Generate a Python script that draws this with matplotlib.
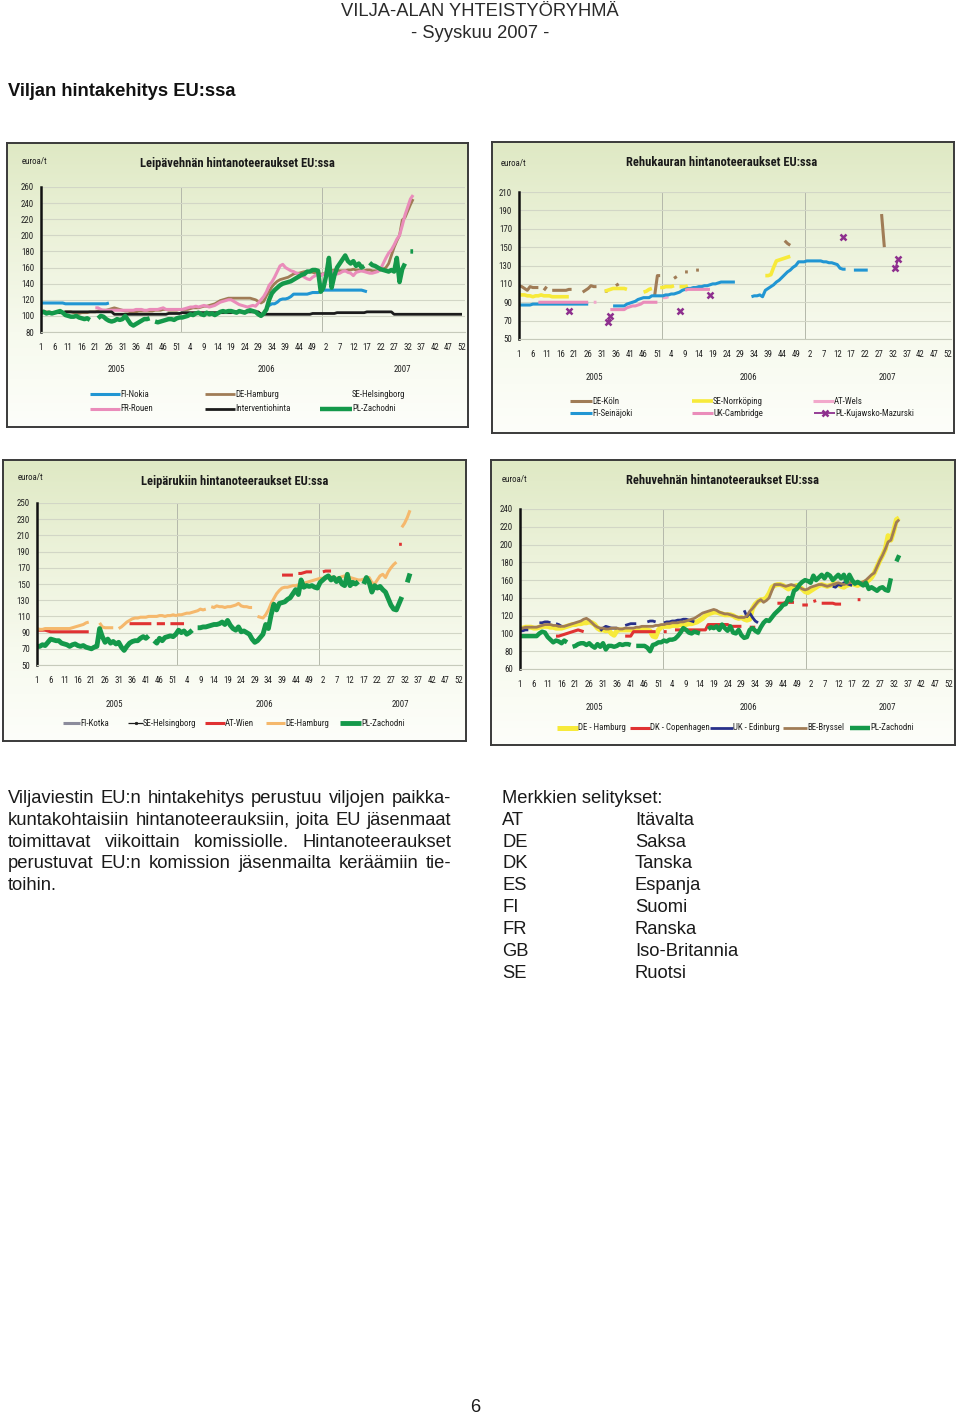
import numpy as np
import matplotlib
matplotlib.use('Agg')
import matplotlib.pyplot as plt
from matplotlib.lines import Line2D
from matplotlib.colors import LinearSegmentedColormap
from matplotlib import font_manager as fm

# ------------------------------------------------------------------ data
x_tick_labels = ['1', '6', '11', '16', '21', '26', '31', '36', '41', '46', '51',
                 '4', '9', '14', '19', '24', '29', '34', '39', '44', '49',
                 '2', '7', '12', '17', '22', '27', '32', '37', '42', '47', '52']
year_labels = ['2005', '2006', '2007']
unit_label = 'euroa/t'

# Panel 1 : Leipävehnä  (segments: (week index, values))
p1_title = 'Leipävehnän hintanoteeraukset EU:ssa'
p1_fi_nokia = [
    (0, [116, 116, 116, 116, 116, 116, 116, 116, 116, 115, 115, 115, 115, 115, 115, 115, 115, 115, 115, 115,
         115, 115, 115, 115, 115, 116]),
    (83, [110, 113, 115, 115, 117, 120, 121, 121, 122, 124, 127, 127, 127, 127, 127, 127, 128, 129, 129, 129,
          130, 132, 132, 132, 132, 132, 132, 132, 132, 132, 132, 132, 132, 132, 132, 132, 131, 130]),
]
p1_de_hamburg = [
    (0, [106, 106, 105, 105, 104, 104, 105, 104, 104, 105, 105, 105, 104, 104, 103, 104, 104, 104, 105, 105,
         105, 106, 106, 107, 107, 108, 109, 110, 109, 108,
         107, 106, 106, 105, 105, 105, 106, 106, 106, 106, 106, 106, 107, 107, 107, 108, 108, 107, 107, 107, 107, 108,
         108, 108, 108, 109, 110, 110, 110, 111, 112, 112, 113, 114, 115,
         117, 119, 120, 121, 122, 122, 122, 122, 122, 122, 122, 122, 122, 121, 120, 118,
         116, 118, 125, 130, 136, 140, 143, 145, 146, 147,
         148, 150, 152, 153, 153, 154, 155, 155, 155, 154, 153, 152, 152,
         152, 154, 155, 156, 157, 157, 156, 156, 156, 157, 157, 158, 157, 157, 156, 156, 157, 157, 156, 156, 156,
         157, 158, 160, 165, 175, 185, 193, 200, 219, 222, 230, 238, 245]),
]
p1_se_helsingborg = []
p1_fr_rouen = [
    (20, [110, 110, 108, 107, 107, 107, 107, 107, 107, 107,
          107, 107, 107, 107, 107, 108, 108, 108, 107, 107, 108, 108, 108, 108, 109, 110, 108, 108, 108, 108, 108, 108,
          108, 109, 110, 111, 111, 112, 111, 112, 113, 112, 111, 112, 113,
          115, 117, 118, 119, 120, 120, 118, 116, 114, 113, 112, 111, 112, 113]),
    (79, [112, 116, 120, 124, 130, 138, 142, 148, 155, 162, 164, 160, 158, 156, 155, 153, 152, 150, 148, 146,
          145, 148, 150, 152, 150, 152,
          153, 155, 155, 154, 152, 153, 155, 156, 154, 153, 150, 154, 155, 156, 155, 154, 153, 153, 154, 155,
          158, 165, 172, 178, 182, 188, 195, 200, 212, 225, 235, 245, 250]),
]
p1_interventiohinta = [
    (0, [104, 104, 104, 104, 104, 104, 104, 104, 104,
         105, 105, 105, 105, 105, 105, 105, 105, 105, 105, 105, 105, 105, 105, 105, 105, 105, 105,
         102, 102, 102, 102, 102, 102, 102, 102, 102, 102, 102, 102, 102, 102, 102, 102, 102, 102, 102, 102,
         103, 103, 103, 103, 103,
         104, 104, 104, 104, 104, 104, 104, 104, 104, 104, 104, 104, 104, 104, 104, 104, 104, 104, 104,
         105, 105, 105, 105, 105, 105, 105, 105, 105, 105,
         102, 102, 102, 102, 102, 102, 102, 102, 102, 102, 102, 102, 102, 102, 102, 102, 102, 102, 102,
         103, 103, 103, 103, 103, 103, 103, 103, 103,
         104, 104, 104, 104, 104, 104, 104, 104, 104, 104, 104,
         105, 105, 105, 105, 105, 105, 105, 105, 105, 105,
         102, 102, 102, 102, 102, 102, 102, 102, 102, 102, 102, 102, 102, 102, 102, 102, 102, 102, 102, 102,
         102, 102, 102, 102, 102, 102]),
]
p1_pl_zachodni = [
    (0, [104, 105, 103, 104, 103, 104, 105, 106, 104, 101, 100, 99, 99, 100, 98, 97, 96, 97, 95]),
    (21, [97, 100, 99, 96, 94, 93, 94, 96, 95, 96, 100, 95, 90, 88, 90, 92, 94, 96, 96, 97]),
    (42, [93, 92, 93, 94, 95, 96, 96, 95, 97, 98,
          98, 99, 100, 102, 101, 103, 104, 102, 101, 104, 102, 103, 101,
          103, 105, 106, 105, 106, 106, 105, 104, 106, 105, 104, 106, 107, 106, 105, 102, 100,
          103, 108, 120, 128, 132, 135, 138, 140, 141,
          142, 143, 145, 147, 149, 151, 152, 155, 155, 157, 157, 156, 130,
          135, 150, 172, 135, 150, 160, 165, 170, 175, 168, 165, 168, 162, 165, 160, 162]),
    (121, [166, 163, 162, 160, 158, 157, 156, 155, 157, 155, 172, 142, 158, 165]),
    (136, [180, 180]),
]

# Panel 2 : Rehukaura
p2_title = 'Rehukauran hintanoteeraukset EU:ssa'
p2_de_koln = [(0, [108, 107, 105, 103]), (4, [107, 106, 106, 106]), (9, [103, 107]),
              (12, [103, 103, 103, 103, 103, 103, 104, 104]), (23, [101, 103, 105, 108, 107, 107]),
              (31, [102, 102]), (35, [108, 110]), (49, [97, 119, 119]), (56, [116, 118]),
              (60, [123, 123]), (64, [125, 125]), (96, [157, 154, 152]), (131, [186, 150])]
p2_se_norrkoping = [(0, [98, 98, 98, 97, 97, 96, 97, 97, 98, 97, 97, 97, 96, 96, 96, 96, 96, 96, 96]),
                    (31, [102, 103, 104, 105, 105, 105, 105, 105, 104]),
                    (45, [101, 102, 104, 105]), (51, [106, 106, 107, 107, 107, 108]),
                    (58, [107, 107, 107, 108]),
                    (89, [119, 119, 120, 128, 135, 136, 137, 138, 139, 140])]
p2_at_wels = [(27, [90, 90]), (52, [95, 95, 96])]
p2_fi_seinajoki = [
    (0, [87, 87, 87, 87, 87, 88, 88, 88, 88, 88, 88, 88, 88, 88, 88, 88, 88, 88, 88, 88, 88, 88, 88, 88, 88, 88]),
    (34, [86, 86, 86, 86, 86, 88, 89, 90, 91, 93, 94, 95, 95, 95,
          97, 97, 97, 97, 97, 98, 98, 99, 99, 100, 101, 103, 104, 105, 105, 106, 106, 107, 107, 108, 108,
          109, 110, 110, 111, 112, 112, 112, 112, 112, 112]),
    (84, [96, 97, 97, 98, 96, 103, 105, 107, 109, 112, 114, 117, 120, 123, 125, 128, 130, 134, 134, 134,
          135, 135, 135, 135, 135, 135, 134, 134, 133, 133, 132, 131, 127, 126, 126]),
    (121, [125, 125, 125, 125, 125, 125]),
]
p2_uk_cambridge = [(7, [90, 90, 90, 90, 90, 90, 90, 90, 90, 90, 90, 90, 90, 90, 90, 90, 90, 90, 90]),
                   (33, [82, 82, 82, 82, 82, 82, 84, 85, 86, 86, 87, 88, 90, 90, 90, 90, 90, 90]),
                   (60, [103, 104, 104, 104, 104, 104, 104, 104, 104, 104])]
p2_pl_kujawsko = [(18, [80]), (32, [68, 75]), (58, [81]), (69, [98]), (117, [161]), (136, [127, 137])]

# Panel 3 : Leipäruis
p3_title = 'Leipärukiin hintanoteeraukset EU:ssa'
p3_fi_kotka = []
p3_se_helsingborg = []
p3_at_wien = [(0, [93, 93, 93, 93, 92, 91, 91, 91, 91, 91, 91, 91, 91, 91, 91, 91, 91, 91, 91, 91]),
              (34, [101, 101, 101, 101, 101, 101, 101, 101, 101]), (44, [101, 101, 101, 101]),
              (49, [101, 101, 101, 101, 101, 101]), (90, [161, 161, 161, 161, 161]),
              (96, [163, 163, 164, 165, 165, 165]), (105, [165, 166, 166, 166]), (133, [199, 199])]
p3_de_hamburg = [
    (0, [95, 94, 94, 95, 95, 95, 95, 95, 95, 95, 95, 95, 95, 96, 97, 98, 99, 100, 102, 103]),
    (23, [102, 97, 96, 96, 96, 96]),
    (30, [95, 97, 100, 103, 105, 107, 108, 108, 109, 109, 109, 110, 110, 110, 110, 111, 111, 110, 111, 111, 112]),
    (51, [111, 112, 112, 113, 114, 114, 115, 116, 117, 119, 118, 119]),
    (64, [122, 121, 123, 122, 122, 121, 122, 122, 123, 124, 126, 123, 122, 122, 121, 121]),
    (81, [110, 109, 108, 112, 118, 126, 132, 138, 142, 145, 146, 146, 147, 148, 148, 149, 150, 151, 152, 153,
          154, 155, 156, 157, 157, 158, 158, 159, 158, 157, 158, 159, 160, 159, 158, 157, 156, 155, 155, 156,
          157, 158, 152, 150, 155, 160, 162, 158, 165, 170, 174, 177]),
    (134, [220, 225, 232, 241]),
]
p3_pl_zachodni = [
    (0, [73, 73, 75, 74, 78, 82, 81, 80, 80, 77, 76, 75, 73, 75, 76, 74, 73, 74, 72, 71, 70, 72,
         73, 95, 85, 78, 82, 77, 79, 76, 78, 72, 68, 73, 77, 79, 80, 80, 83, 85, 83, 86]),
    (43, [80, 77, 83, 80, 84, 85, 86, 85, 88, 93, 90, 92, 88, 90, 93]),
    (59, [96, 96, 97, 97, 98, 99, 100, 100, 101, 103, 100, 105, 99, 95, 93, 97, 91, 92, 90, 88,
          82, 78, 80, 84, 88, 100, 95, 112, 125, 118, 126, 127, 128, 131, 133, 138, 143, 137, 155, 146,
          148, 147, 148, 146, 145, 152, 155, 158, 160, 155, 158, 153, 157, 150, 148, 162, 148, 152, 150, 153]),
    (120, [150, 158, 152, 140, 148, 145, 147, 143, 140, 132, 124, 119, 118, 126, 134]),
    (136, [152, 163]),
]

# Panel 4 : Rehuvehnä
p4_title = 'Rehuvehnän hintanoteeraukset EU:ssa'
p4_de_hamburg = [
    (0, [106, 106, 107, 107, 107, 106, 106, 107, 108, 108, 108, 107, 107, 106, 106, 106, 107, 108, 109, 110,
         110, 111, 111, 112, 112, 113, 112, 110, 106,
         104, 104, 103, 104, 100, 98, 103, 104, 104, 104, 104, 104, 104, 104, 104, 105, 105, 104, 103, 97, 96, 104,
         107, 108, 108, 108, 109, 109, 109, 110, 110, 110, 111, 111, 112, 113, 115, 117,
         120, 122, 123, 124, 124, 123, 122, 121, 121, 121, 120, 118, 117, 118,
         116, 115, 116, 128, 133, 136, 138, 138, 140, 145, 152, 154, 155, 155, 154, 152, 150, 152, 153, 154,
         152, 150, 147, 146,
         148, 150, 152, 154, 155, 154, 153, 154, 155, 156, 155, 153, 152, 154, 155, 156, 155, 154, 156, 157,
         158, 160, 163, 168, 175, 182, 188, 195, 210, 205, 215, 228, 230]),
]
p4_dk_copenhagen = [(13, [97, 97, 98, 99, 100, 101, 102, 103, 104, 103, 102]), (38, [97, 97, 97]),
                    (41, [102, 102, 102, 102, 102, 102, 102, 102, 102]), (52, [102, 102]),
                    (56, [104, 104, 104, 104, 104, 104, 104, 104, 104, 104, 104, 104]),
                    (68, [110, 110, 110, 110, 110, 110, 110, 110]), (76, [108, 108, 108, 108, 108]),
                    (83, [107, 107, 107]), (93, [134, 134, 134, 135, 135, 135, 135]),
                    (102, [132, 132, 132]), (106, [136, 137]),
                    (109, [134, 134, 134, 134, 134, 133, 133, 133]), (122, [138, 138])]
p4_uk_edinburg = [(0, [103, 103, 104, 104]), (7, [112, 112, 113, 113, 112]), (13, [111, 110, 108]),
                  (29, [103, 106, 108, 107, 106, 106, 106]), (38, [109, 110, 111, 111, 111]),
                  (46, [113, 114, 114, 113]),
                  (52, [112, 113, 113, 114, 114, 115, 115, 116, 116, 115, 114, 113]),
                  (81, [126, 119, 123, 118, 114, 112]),
                  (113, [153, 152, 155, 154, 157, 156, 155, 154])]
p4_be_bryssel = [
    (0, [106, 106, 107, 107, 107, 107, 107, 108, 109, 110, 110, 110, 109, 109, 108, 108, 108, 109, 110, 111, 112,
         113, 114, 116, 117, 115, 112, 109, 107,
         106, 106, 105, 105, 106, 106, 106, 105, 105, 106, 106, 106, 106, 107, 107, 108, 108, 108, 108, 108,
         109, 109, 110, 110, 111,
         111, 112, 112, 112, 113, 113, 114, 115, 116, 117, 119, 121, 123, 124, 125, 126, 127, 126, 124, 123,
         122, 122, 121, 120, 119, 118, 118,
         118, 120, 125, 128, 132, 136, 138, 135, 137, 140, 148, 155, 155, 155, 154, 153, 154, 155, 154, 153,
         152, 150, 149, 150,
         152, 153, 154, 155, 155, 154, 153, 154, 155, 156, 157, 156, 155, 156, 157, 158, 157, 156, 157, 158,
         160, 163, 166, 168, 175, 182, 188, 195, 203, 205, 215, 225, 228]),
]
p4_pl_zachodni = [
    (0, [97, 97, 97, 97, 97, 97, 97, 100, 102, 101, 96, 93, 90, 92, 91, 89, 92, 90]),
    (19, [85, 86, 88, 89, 89, 87, 89, 86, 84, 88, 85, 89, 82, 86, 86, 85, 86, 88, 87, 88, 88, 87]),
    (42, [86, 86, 86, 86, 84, 80, 87, 88, 90, 90, 92, 91, 93, 93, 94, 97, 101, 106, 104]),
    (61, [101, 100, 102, 101, 100]),
    (68, [105, 107, 106, 108, 104, 110, 106, 103, 108, 101,
          100, 104, 98, 95, 96, 104, 106, 103, 101, 107, 112, 115, 114, 118, 122, 125, 128, 132, 133, 140,
          137, 148, 150, 155, 158, 160, 159,
          157, 165, 160, 163, 166, 162, 167, 165, 160, 163, 166, 162, 166, 158, 166, 160, 156,
          158, 156, 154, 157, 150, 152, 150, 148, 151, 152, 149, 148, 162]),
    (136, [181, 188]),
]

merkit_title = 'Merkkien selitykset:'
merkit_codes = ['AT', 'DE', 'DK', 'ES', 'FI', 'FR', 'GB', 'SE']
merkit_names = ['Itävalta', 'Saksa', 'Tanska', 'Espanja', 'Suomi', 'Ranska', 'Iso-Britannia', 'Ruotsi']
body_lines = ['Viljaviestin EU:n hintakehitys perustuu viljojen paikka-',
              'kuntakohtaisiin hintanoteerauksiin, joita EU jäsenmaat',
              'toimittavat viikoittain komissiolle. Hintanoteeraukset',
              'perustuvat EU:n komission jäsenmailta keräämiin tie-',
              'toihin.']

# ------------------------------------------------------------------ fonts
W, H = 960, 1416
N = 156
weeks = np.arange(N)
SANS = ['Liberation Sans', 'DejaVu Sans']

_names = {f.name for f in fm.fontManager.ttflist}
NARROW = dict(family=['Liberation Sans', 'DejaVu Sans'])
for cand in ['Liberation Sans Narrow', 'Arial Narrow', 'Roboto Condensed', 'DejaVu Sans Condensed',
             'Open Sans Condensed', 'Noto Sans Condensed']:
    if cand in _names:
        NARROW = dict(family=[cand, 'DejaVu Sans'])
        break
else:
    if any(f.name == 'DejaVu Sans' and 'condensed' in str(f.stretch) for f in fm.fontManager.ttflist):
        NARROW = dict(family=['DejaVu Sans'], fontstretch='condensed')

fig = plt.figure(figsize=(W / 100, H / 100), dpi=100)
fig.patch.set_facecolor('white')
renderer = fig.canvas.get_renderer()


def ftext(x, y, s, **kw):
    return fig.text(x / W, 1 - y / H, s, **kw)


def fit_size(s, target_px, **kw):
    t = fig.text(0, 0, s, fontsize=10, **kw)
    w = t.get_window_extent(renderer).width
    t.remove()
    return 10 * target_px / w


SMALL = fit_size('PL-Kujawsko-Mazurski', 79, **NARROW)
TITLE = fit_size(p1_title, 194, weight='bold', **NARROW)
HEAD = fit_size('VILJA-ALAN YHTEISTYÖRYHMÄ', 278, family=SANS)
HTITLE = fit_size('Viljan hintakehitys EU:ssa', 228, family=SANS, weight='bold')
BODY = fit_size(body_lines[1], 441, family=SANS)


def build(segments):
    arr = np.full(N, np.nan)
    for start, vals in segments:
        arr[start:start + len(vals)] = vals
    return arr


bg_cmap = LinearSegmentedColormap.from_list('bg', ['#dfe9c4', '#ecf2da', '#f7faee', '#fdfefa'])


def panel_box(x0, y0, x1, y1):
    ax = fig.add_axes([x0 / W, 1 - y1 / H, (x1 - x0) / W, (y1 - y0) / H], zorder=0)
    grad = np.linspace(0, 1, 256).reshape(-1, 1)
    ax.imshow(grad, aspect='auto', cmap=bg_cmap, extent=[0, 1, 0, 1])
    ax.set_xticks([])
    ax.set_yticks([])
    for s in ax.spines.values():
        s.set_color('#3a3a3a')
        s.set_linewidth(1.4)


def plot_axes(x0, x155, ytop, ybot, ymin, ymax, step):
    width = (x155 - x0) * N / (N - 1)
    ax = fig.add_axes([x0 / W, 1 - ybot / H, width / W, (ybot - ytop) / H], zorder=2)
    ax.set_facecolor('none')
    ax.set_xlim(0, N)
    ax.set_ylim(ymin, ymax)
    ax.set_xticks(np.arange(0, N, 5))
    ax.set_xticklabels(x_tick_labels, fontsize=SMALL, color='#222222', **NARROW)
    yt = np.arange(ymin, ymax + 1, step)
    ax.set_yticks(yt)
    ax.set_yticklabels([str(v) for v in yt], fontsize=SMALL, color='#222222', **NARROW)
    ax.tick_params(axis='x', length=0, pad=8)
    ax.tick_params(axis='y', length=0, pad=5)
    ax.grid(axis='y', color='#d2d6c6', lw=0.8)
    ax.set_axisbelow(True)
    ax.spines['top'].set_visible(False)
    ax.spines['right'].set_visible(False)
    ax.spines['bottom'].set_color('#c6cabb')
    ax.spines['bottom'].set_linewidth(0.8)
    ax.spines['left'].set_color('#111111')
    ax.spines['left'].set_linewidth(1.8)
    for xv in (51.5, 103.5):
        ax.axvline(xv, color='#b4b8aa', lw=0.7, zorder=0.5)
    return ax


def draw(ax, segs, color, lw, **kw):
    return ax.plot(weeks, build(segs), color=color, lw=lw, solid_capstyle='butt',
                   solid_joinstyle='round', **kw)


def legend_entry(x0, x1, y, label, color, lw, marker=None, ms=0, mew=0, show_line=True):
    if show_line:
        fig.add_artist(Line2D([x0 / W, x1 / W], [1 - y / H, 1 - y / H], transform=fig.transFigure,
                              color=color, lw=lw, solid_capstyle='butt'))
        if marker:
            fig.add_artist(Line2D([(x0 + x1) / 2 / W], [1 - y / H], transform=fig.transFigure,
                                  color=color, marker=marker, ms=ms, mew=mew, lw=0))
    ftext(x1, y, label, fontsize=SMALL, va='center', ha='left', color='#222222', **NARROW)


def titles(tx, ty, title, ux, uy, years_x, years_y):
    ftext(tx, ty, title, fontsize=TITLE, weight='bold', ha='center', va='center',
          color='#1a1a1a', **NARROW)
    ftext(ux, uy, unit_label, fontsize=SMALL, ha='left', va='center', color='#222222', **NARROW)
    for xx, lab in zip(years_x, year_labels):
        ftext(xx, years_y, lab, fontsize=SMALL, ha='center', va='center', color='#222222', **NARROW)


# colours
C_BLUE = '#2196d3'
C_BROWN = '#a07c56'
C_PINK = '#ea8cba'
C_BLACK = '#1c1c1c'
C_GREEN = '#14994a'
C_YELLOW = '#f7ea3a'
C_LPINK = '#f2a8cb'
C_PURPLE = '#8e2f8e'
C_RED = '#e03232'
C_ORANGE = '#f5b86c'
C_NAVY = '#28308a'
C_GRAY = '#8c8c9c'

# ---------------- panel 1
panel_box(7, 143, 468, 427)
ax1 = plot_axes(41, 462, 187, 332, 80, 260, 20)
draw(ax1, p1_fi_nokia, C_BLUE, 2.2)
draw(ax1, p1_de_hamburg, C_BROWN, 2.0)
draw(ax1, p1_se_helsingborg, '#555555', 1.0)
draw(ax1, p1_fr_rouen, C_PINK, 2.2)
draw(ax1, p1_interventiohinta, C_BLACK, 2.0)
draw(ax1, p1_pl_zachodni, C_GREEN, 3.2)
titles(237, 164, p1_title, 22, 161, [116, 266, 402], 370)
legend_entry(90, 120, 394, 'FI-Nokia', C_BLUE, 2.2)
legend_entry(205, 235, 394, 'DE-Hamburg', C_BROWN, 2.0)
legend_entry(322, 352, 394, 'SE-Helsingborg', C_BLACK, 1.0, show_line=False)
legend_entry(90, 120, 409, 'FR-Rouen', C_PINK, 2.2)
legend_entry(205, 235, 409, 'Interventiohinta', C_BLACK, 2.0)
legend_entry(320, 352, 409, 'PL-Zachodni', C_GREEN, 3.2)

# ---------------- panel 2
panel_box(492, 142, 954, 433)
ax2 = plot_axes(519, 948, 192, 339, 50, 210, 20)
draw(ax2, p2_de_koln, C_BROWN, 2.2)
draw(ax2, p2_se_norrkoping, C_YELLOW, 2.6)
draw(ax2, p2_at_wels, C_LPINK, 2.2)
draw(ax2, p2_fi_seinajoki, C_BLUE, 2.2)
draw(ax2, p2_uk_cambridge, C_PINK, 2.2)
draw(ax2, p2_pl_kujawsko, C_PURPLE, 1.3, marker='x', ms=4.5, mew=1.8)
titles(722, 163, p2_title, 501, 163, [594, 748, 887], 377)
legend_entry(570, 592, 401, 'DE-Köln', C_BROWN, 2.2)
legend_entry(692, 713, 401, 'SE-Norrköping', C_YELLOW, 2.6)
legend_entry(813, 834, 401, 'AT-Wels', C_LPINK, 2.2)
legend_entry(570, 592, 413, 'FI-Seinäjoki', C_BLUE, 2.2)
legend_entry(692, 713, 413, 'UK-Cambridge', C_PINK, 2.2)
legend_entry(814, 835, 413, 'PL-Kujawsko-Mazurski', C_PURPLE, 1.3, marker='x', ms=4.5, mew=1.8)

# ---------------- panel 3
panel_box(3, 460, 466, 741)
ax3 = plot_axes(37, 459, 503, 665, 50, 250, 20)
draw(ax3, p3_fi_kotka, C_GRAY, 2.2)
draw(ax3, p3_se_helsingborg, C_BLACK, 1.0)
draw(ax3, p3_at_wien, C_RED, 2.2)
draw(ax3, p3_de_hamburg, C_ORANGE, 2.2)
draw(ax3, p3_pl_zachodni, C_GREEN, 3.5)
titles(235, 481, p3_title, 18, 477, [114, 264, 400], 704)
legend_entry(63, 80, 723, 'FI-Kotka', C_GRAY, 2.2)
legend_entry(128, 143, 723, 'SE-Helsingborg', C_BLACK, 0.9, marker='o', ms=1.8, mew=0.5)
legend_entry(205, 225, 723, 'AT-Wien', C_RED, 2.2)
legend_entry(266, 285, 723, 'DE-Hamburg', C_ORANGE, 2.2)
legend_entry(340, 361, 723, 'PL-Zachodni', C_GREEN, 3.5)

# ---------------- panel 4
panel_box(491, 460, 955, 745)
ax4 = plot_axes(520, 949, 509, 669, 60, 240, 20)
draw(ax4, p4_de_hamburg, C_YELLOW, 3.6)
draw(ax4, p4_dk_copenhagen, C_RED, 2.2)
draw(ax4, p4_uk_edinburg, C_NAVY, 2.0)
draw(ax4, p4_be_bryssel, C_BROWN, 2.0)
draw(ax4, p4_pl_zachodni, C_GREEN, 3.2)
titles(723, 481, p4_title, 502, 480, [594, 748, 887], 707)
legend_entry(557, 578, 728, 'DE - Hamburg', C_YELLOW, 3.6)
legend_entry(630, 650, 728, 'DK - Copenhagen', C_RED, 2.2)
legend_entry(710, 733, 728, 'UK - Edinburg', C_NAVY, 2.0)
legend_entry(783, 807, 728, 'BE-Bryssel', C_BROWN, 2.0)
legend_entry(850, 870, 728, 'PL-Zachodni', C_GREEN, 3.2)

# ---------------- page texts
ftext(480, 12, 'VILJA-ALAN YHTEISTYÖRYHMÄ', fontsize=HEAD, family=SANS, ha='center', va='center',
      color='#2a2a2a')
ftext(480, 34, '- Syyskuu 2007 -', fontsize=HEAD, family=SANS, ha='center', va='center', color='#2a2a2a')
ftext(8, 92, 'Viljan hintakehitys EU:ssa', fontsize=HTITLE, family=SANS, weight='bold', ha='left',
      va='center', color='#111111')

for k, line in enumerate(body_lines):
    y = 798 + 22 * k
    if k == len(body_lines) - 1:
        ftext(8, y, line, fontsize=BODY, family=SANS, ha='left', va='center', color='#1a1a1a')
        continue
    words = line.split(' ')
    objs = [ftext(0, y, w, fontsize=BODY, family=SANS, ha='left', va='center', color='#1a1a1a')
            for w in words]
    widths = [o.get_window_extent(renderer).width for o in objs]
    gap = (451 - 8 - sum(widths)) / (len(words) - 1)
    xx = 8
    for o, wd in zip(objs, widths):
        o.set_position((xx / W, 1 - y / H))
        xx += wd + gap

ftext(502, 798, merkit_title, fontsize=BODY, family=SANS, ha='left', va='center', color='#1a1a1a')
for k, (c, n) in enumerate(zip(merkit_codes, merkit_names)):
    y = 820 + 22 * k
    ftext(502, y, c, fontsize=BODY, family=SANS, ha='left', va='center', color='#1a1a1a')
    ftext(635, y, n, fontsize=BODY, family=SANS, ha='left', va='center', color='#1a1a1a')

ftext(475, 1407, '6', fontsize=HEAD, family=SANS, ha='center', va='center', color='#1a1a1a')

fig.savefig('out.png', dpi=100, facecolor='white')
